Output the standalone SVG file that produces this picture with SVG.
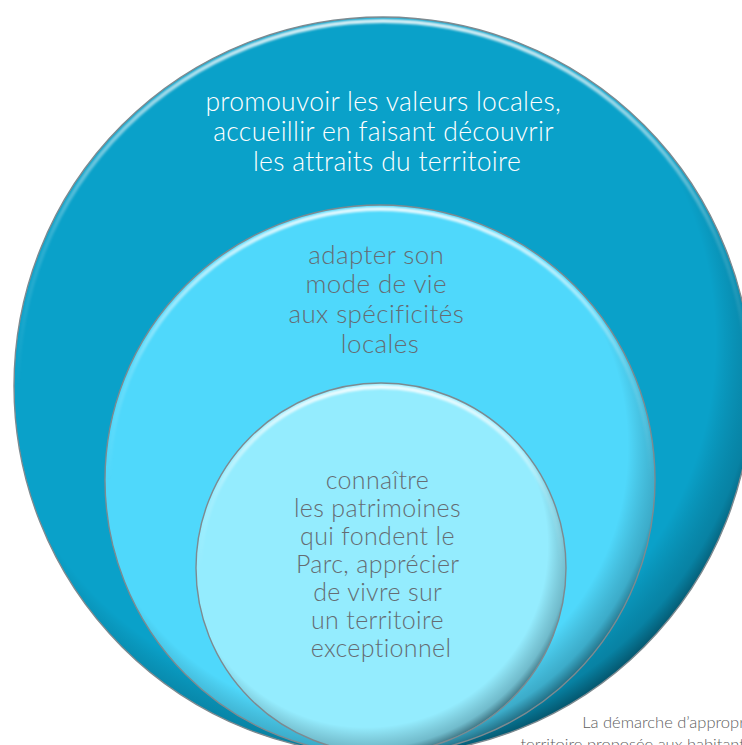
<svg xmlns="http://www.w3.org/2000/svg" width="742" height="745" viewBox="0 0 742 745">
  <defs>
    <radialGradient id="shade" cx="0.46" cy="0.44" r="0.57">
      <stop offset="0.86" stop-color="#000" stop-opacity="0"/>
      <stop offset="0.96" stop-color="#00202c" stop-opacity="0.24"/>
      <stop offset="1" stop-color="#00202c" stop-opacity="0.55"/>
    </radialGradient>
    <linearGradient id="hl" x1="0" y1="0" x2="0" y2="1">
      <stop offset="0" stop-color="#ffffff" stop-opacity="0.85"/>
      <stop offset="0.3" stop-color="#ffffff" stop-opacity="0.15"/>
      <stop offset="0.5" stop-color="#ffffff" stop-opacity="0"/>
    </linearGradient>
    <filter id="soft" x="-5%" y="-5%" width="110%" height="110%">
      <feGaussianBlur stdDeviation="1.2"/>
    </filter>
  </defs>
  <style>
    .rim { fill: none; stroke: #7d8a90; stroke-width: 1.4; }
    .hl { fill: none; stroke: url(#hl); stroke-width: 4; filter: url(#soft); }
    .t { font-family: Lato, "Open Sans", "Liberation Sans", sans-serif; font-weight: 300; text-anchor: middle; }
    .w { fill: #ffffff; font-size: 26.5px; letter-spacing: 0.3px; }
    .g { fill: #656c73; font-size: 26px; letter-spacing: 0.4px; }
    .gi { fill: #656c73; font-size: 25px; letter-spacing: 0.35px; }
    .cap { font-family: Lato, "Open Sans", "Liberation Sans", sans-serif; font-weight: 300; fill: #5e5e5e; font-size: 16.5px; text-anchor: end; }
  </style>
  <rect width="742" height="745" fill="#ffffff"/>

  <g id="node-outer">
    <circle cx="383" cy="386" r="369" fill="#0aa1c9"/>
    <circle cx="383" cy="386" r="369" fill="url(#shade)"/>
    <circle cx="383" cy="386" r="365" class="hl"/>
    <circle cx="383" cy="386" r="369" class="rim"/>
    <text class="t w">
      <tspan x="387" y="111">promouvoir les valeurs locales,</tspan>
      <tspan x="387" y="141">accueillir en faisant découvrir</tspan>
      <tspan x="387" y="171">les attraits du territoire</tspan>
    </text>
  </g>

  <g id="node-middle">
    <circle cx="380" cy="480" r="275" fill="#4fd8fb"/>
    <circle cx="380" cy="480" r="275" fill="url(#shade)"/>
    <circle cx="380" cy="480" r="271" class="hl"/>
    <circle cx="380" cy="480" r="275" class="rim"/>
    <text class="t g">
      <tspan x="380" y="264">adapter son</tspan>
      <tspan x="380" y="293">mode de vie</tspan>
      <tspan x="380" y="323">aux spécificités</tspan>
      <tspan x="380" y="353">locales</tspan>
    </text>
  </g>

  <g id="node-inner">
    <circle cx="381" cy="568" r="185" fill="#94ecfe"/>
    <circle cx="381" cy="568" r="185" fill="url(#shade)"/>
    <circle cx="381" cy="568" r="181" class="hl"/>
    <circle cx="381" cy="568" r="185" class="rim"/>
    <text class="t gi">
      <tspan x="381" y="489">connaître</tspan>
      <tspan x="381" y="517">les patrimoines</tspan>
      <tspan x="381" y="545">qui fondent le</tspan>
      <tspan x="381" y="573">Parc, apprécier</tspan>
      <tspan x="381" y="601">de vivre sur</tspan>
      <tspan x="381" y="629">un territoire</tspan>
      <tspan x="381" y="657">exceptionnel</tspan>
    </text>
  </g>

  <g id="caption">
    <text class="cap" x="745" y="728">La démarche d’appropr</text>
    <text class="cap" x="745" y="750">territoire proposée aux habitant</text>
  </g>
</svg>
